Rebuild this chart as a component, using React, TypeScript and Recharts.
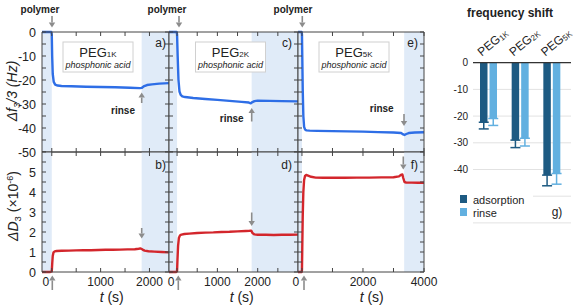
import React from 'react';
import {
  LineChart, Line, XAxis, YAxis, ReferenceArea,
  BarChart, Bar, ErrorBar, CartesianGrid, ReferenceLine,
} from 'recharts';

const W = 573;
const H = 307;
const FONT = '"Liberation Sans", Arial, Helvetica, sans-serif';
const FRAME = '#444444';
const SHADE = '#e0ebf8';
const BLUE = '#2e6ee6';
const RED = '#d3262c';
const ARROW = '#8c8c8c';
const DARK_BAR = '#1d5a82';
const LIGHT_BAR = '#62b0e0';
const TICK = 4;
const AX = 1; // thickness reserved for each axis strip

// ---- PEG 1K : frequency (a) and dissipation (b) ----
const timeA = [-200, -10, 0, 8, 20, 40, 70, 120, 200, 400, 700, 1000, 1300, 1600, 1800, 1840, 1880, 1950, 2050, 2200, 2400];
const freqA = [0, 0, -1, -10, -17.5, -20.8, -21.9, -22.3, -22.5, -22.6, -22.8, -22.9, -23.0, -23.2, -23.4, -23.3, -22.7, -22.1, -21.8, -21.5, -21.3];
const timeB = [-200, -30, 0, 10, 20, 35, 60, 100, 200, 350, 500, 650, 800, 950, 1100, 1250, 1400, 1550, 1700, 1780, 1820, 1860, 1900, 1980, 2100, 2250, 2400];
const dissB = [0, 0, 0.03, 0.45, 0.8, 0.98, 1.03, 1.05, 1.06, 1.07, 1.08, 1.09, 1.09, 1.1, 1.11, 1.11, 1.12, 1.13, 1.14, 1.16, 1.18, 1.12, 1.07, 1.04, 1.02, 1.0, 0.98];

// ---- PEG 2K : frequency (c) and dissipation (d) ----
const timeC = [-200, -10, 0, 15, 35, 60, 90, 130, 200, 400, 700, 1000, 1300, 1600, 1780, 1830, 1870, 1920, 2000, 2300, 2600, 3000];
const freqC = [0, 0, -1, -10, -20, -24.8, -26.2, -26.8, -27.1, -27.5, -27.9, -28.3, -28.7, -29.1, -29.4, -29.7, -29.2, -28.8, -28.6, -28.7, -28.8, -28.9];
const timeD = [-200, -20, 0, 10, 25, 45, 70, 110, 180, 300, 500, 700, 900, 1100, 1300, 1500, 1700, 1800, 1840, 1870, 1920, 2000, 2200, 2400, 2600, 2800, 3000];
const dissD = [0, 0, 0.05, 0.6, 1.3, 1.7, 1.82, 1.87, 1.9, 1.92, 1.95, 1.97, 1.98, 2.0, 2.01, 2.03, 2.05, 2.06, 2.07, 1.95, 1.88, 1.86, 1.86, 1.85, 1.86, 1.86, 1.87];

// ---- PEG 5K : frequency (e) and dissipation (f) ----
const timeE = [-130, -10, 0, 10, 25, 45, 70, 100, 150, 250, 500, 1000, 1500, 2000, 2500, 3000, 3250, 3320, 3360, 3420, 3500, 3700, 4000];
const freqE = [0, 0, -1, -10, -24, -35, -39.5, -40.6, -41.0, -41.1, -41.2, -41.3, -41.4, -41.5, -41.7, -41.9, -42.1, -42.7, -42.9, -42.5, -42.1, -41.9, -41.8];
const timeF = [-130, -10, 0, 10, 25, 45, 70, 100, 140, 200, 300, 450, 700, 1000, 1400, 1800, 2200, 2600, 3000, 3180, 3250, 3290, 3320, 3360, 3420, 3600, 3800, 4000];
const dissF = [0, 0, 0.1, 1.2, 2.8, 4.0, 4.6, 4.8, 4.85, 4.82, 4.76, 4.72, 4.71, 4.72, 4.71, 4.72, 4.72, 4.73, 4.74, 4.78, 4.86, 4.88, 4.7, 4.5, 4.47, 4.47, 4.46, 4.46];

// ---- bar summary (g) ----
const pegSizes = ['1K', '2K', '5K'];
const adsorptionShift = [-22.3, -29.0, -42.1];
const adsorptionSpread = [2.5, 2.8, 4.0];
const rinseShift = [-20.9, -28.3, -41.5];
const rinseSpread = [2.6, 2.9, 4.0];

// axis tick values
const freqTicks = [-50, -45, -40, -35, -30, -25, -20, -15, -10, -5, 0];
const freqLabels = [0, -10, -20, -30, -40, -50];
const dissTicks = [0, 0.5, 1, 1.5, 2, 2.5, 3, 3.5, 4, 4.5, 5, 5.5, 6];
const dissLabels = [0, 1, 2, 3, 4, 5];
const barTicks = [0, -10, -20, -30, -40, -50, -60];
const barLabels = [0, -10, -20, -30, -40];

const rows = (t: number[], v: number[]) => t.map((x, i) => ({ t: x, v: v[i] }));

const columns = [
  { left: 42, width: 127, domain: [-200, 2400], ticks: [0, 500, 1000, 1500, 2000], labels: [0, 1000, 2000], shades: [[-200, 0], [1840, 2400]] },
  { left: 169, width: 129, domain: [-200, 3000], ticks: [0, 500, 1000, 1500, 2000, 2500], labels: [0, 1000, 2000], shades: [[-200, 0], [1850, 3000]] },
  { left: 298, width: 126, domain: [-130, 4000], ticks: [0, 1000, 2000, 3000, 4000], labels: [0, 2000, 4000], shades: [[-130, 0], [3350, 4000]] },
];

const panelRows = [
  { top: 32, height: 120, domain: [-50, 0], ticks: freqTicks, labels: freqLabels },
  { top: 152, height: 120, domain: [0, 6], ticks: dissTicks, labels: dissLabels },
];

const panels = [
  { col: 0, row: 0, data: rows(timeA, freqA), color: BLUE },
  { col: 0, row: 1, data: rows(timeB, dissB), color: RED },
  { col: 1, row: 0, data: rows(timeC, freqC), color: BLUE },
  { col: 1, row: 1, data: rows(timeD, dissD), color: RED },
  { col: 2, row: 0, data: rows(timeE, freqE), color: BLUE },
  { col: 2, row: 1, data: rows(timeF, dissF), color: RED },
];

const txt = { fontFamily: FONT, fill: '#222' };

const bottomTick = (labels: number[] | null) => (p: any) => {
  const v = p.payload.value;
  const show = labels !== null && labels.includes(v);
  return (
    <g>
      <line x1={p.x} x2={p.x} y1={p.y} y2={p.y - TICK} stroke={FRAME} />
      {show && (
        <text x={p.x + (v === 0 ? -6 : 0)} y={p.y + 14} textAnchor="middle" fontSize={12} {...txt}>{v}</text>
      )}
    </g>
  );
};

const topTick = (p: any) => (
  <line x1={p.x} x2={p.x} y1={p.y} y2={p.y + TICK} stroke={FRAME} />
);

const leftTick = (labels: number[] | null) => (p: any) => {
  const v = p.payload.value;
  const show = labels !== null && labels.includes(v);
  return (
    <g>
      <line x1={p.x} x2={p.x + TICK} y1={p.y} y2={p.y} stroke={FRAME} />
      {show && (
        <text x={p.x - 6} y={p.y + 4.5} textAnchor="end" fontSize={12.5} {...txt}>{v}</text>
      )}
    </g>
  );
};

const rightTick = (p: any) => (
  <line x1={p.x} x2={p.x - TICK} y1={p.y} y2={p.y} stroke={FRAME} />
);

function TimePanel({ col, row, data, color }: any) {
  const c = columns[col];
  const r = panelRows[row];
  const margin = {
    left: c.left - AX,
    top: r.top - AX,
    right: W - c.left - c.width - AX,
    bottom: H - r.top - r.height - AX,
  };
  const xLabels = row === 1 ? c.labels : null;
  const yLabels = col === 0 ? r.labels : null;
  const axisLine = { stroke: FRAME, strokeWidth: 1 };
  return (
    <div style={{ position: 'absolute', left: 0, top: 0 }}>
      <LineChart width={W} height={H} data={data} margin={margin}>
        <XAxis xAxisId="b" dataKey="t" type="number" domain={c.domain} ticks={c.ticks} interval={0}
          orientation="bottom" height={AX} tickSize={0} tickMargin={0} tickLine={false}
          axisLine={axisLine} tick={bottomTick(xLabels)} />
        <XAxis xAxisId="t" dataKey="t" type="number" domain={c.domain} ticks={c.ticks} interval={0}
          orientation="top" height={AX} tickSize={0} tickMargin={0} tickLine={false}
          axisLine={axisLine} tick={topTick} />
        <YAxis yAxisId="l" type="number" domain={r.domain} ticks={r.ticks} interval={0}
          orientation="left" width={AX} tickSize={0} tickMargin={0} tickLine={false}
          axisLine={axisLine} tick={leftTick(yLabels)} />
        <YAxis yAxisId="r" type="number" domain={r.domain} ticks={r.ticks} interval={0}
          orientation="right" width={AX} tickSize={0} tickMargin={0} tickLine={false}
          axisLine={axisLine} tick={rightTick} />
        {c.shades.map(([a, b], i) => (
          <ReferenceArea key={i} xAxisId="b" yAxisId="l" x1={a} x2={b} fill={SHADE} fillOpacity={1} stroke="none" />
        ))}
        <Line xAxisId="t" yAxisId="r" dataKey="v" stroke="none" dot={false} isAnimationActive={false} />
        <Line xAxisId="b" yAxisId="l" type="linear" dataKey="v" stroke={color} strokeWidth={2.4}
          dot={false} isAnimationActive={false} strokeLinejoin="round" />
      </LineChart>
    </div>
  );
}

const barRows = pegSizes.map((k, i) => ({
  name: k,
  ads: adsorptionShift[i],
  adsErr: [adsorptionSpread[i], 0],
  rin: rinseShift[i],
  rinErr: [rinseSpread[i], 0],
}));

const pegTick = (p: any) => (
  <text transform={`translate(${p.x - 7},${p.y - 6}) rotate(-40)`} fontSize={12} {...txt}>
    PEG<tspan fontSize={8} dy={1}>{p.payload.value}</tspan>
  </text>
);

const barYTick = (p: any) => {
  const v = p.payload.value;
  if (!barLabels.includes(v)) return <g />;
  return <text x={p.x - 5} y={p.y + 3.5} textAnchor="end" fontSize={10} {...txt}>{v}</text>;
};

function ShiftBars() {
  return (
    <div style={{ position: 'absolute', left: 0, top: 0 }}>
      <BarChart width={W} height={H} data={barRows}
        margin={{ left: 473 - AX, top: 62.7 - AX, right: 2, bottom: H - 222.9 }} barGap={2}>
        <CartesianGrid vertical={false} stroke="#e2e2e2" />
        <XAxis dataKey="name" orientation="top" height={AX} tickSize={0} tickMargin={0}
          axisLine={false} tickLine={false} tick={pegTick} interval={0} padding={{ left: 0, right: 3 }} />
        <YAxis type="number" domain={[-60, 0]} ticks={barTicks} interval={0} width={AX}
          tickSize={0} tickMargin={0} axisLine={false} tickLine={false} tick={barYTick} />
        <ReferenceLine y={0} stroke="#333" strokeWidth={1.2} />
        <Bar dataKey="ads" fill={DARK_BAR} barSize={7.5} isAnimationActive={false}>
          <ErrorBar dataKey="adsErr" width={5} stroke={DARK_BAR} strokeWidth={1.5} direction="y" />
        </Bar>
        <Bar dataKey="rin" fill={LIGHT_BAR} barSize={7.5} isAnimationActive={false}>
          <ErrorBar dataKey="rinErr" width={5} stroke={LIGHT_BAR} strokeWidth={1.5} direction="y" />
        </Bar>
      </BarChart>
    </div>
  );
}

function Arrow({ x, from, to }: { x: number; from: number; to: number }) {
  const dir = Math.sign(to - from);
  const hl = 5;
  const hw = 3.2;
  return (
    <g>
      <line x1={x} x2={x} y1={from} y2={to - dir * hl} stroke={ARROW} strokeWidth={1.6} />
      <path d={`M${x - hw},${to - dir * hl} L${x + hw},${to - dir * hl} L${x},${to} Z`} fill={ARROW} />
    </g>
  );
}

const boxes = [
  { x: 63, size: '1K' },
  { x: 195.5, size: '2K' },
  { x: 319, size: '5K' },
];

function Annotations() {
  return (
    <svg width={W} height={H} style={{ position: 'absolute', left: 0, top: 0 }}>
      {/* injection markers */}
      {[{ lx: 40, ax: 52 }, { lx: 167, ax: 179 }, { lx: 293, ax: 302.3 }].map((m, i) => (
        <g key={i}>
          <text x={m.lx} y={12.5} textAnchor="middle" fontSize={10} fontWeight="bold" {...txt}>polymer</text>
          <Arrow x={m.ax} from={16} to={27.5} />
        </g>
      ))}
      {/* sample boxes */}
      {boxes.map((b, i) => (
        <g key={i}>
          <rect x={b.x} y={42} width={70} height={30} fill="#fff" stroke="#d0d0d0" strokeWidth={1} />
          <text x={b.x + 35} y={57} textAnchor="middle" fontSize={13} {...txt}>
            PEG<tspan fontSize={8}>{b.size}</tspan>
          </text>
          <text x={b.x + 35} y={67.5} textAnchor="middle" fontSize={9} fontStyle="italic" {...txt}>phosphonic acid</text>
        </g>
      ))}
      {/* panel letters */}
      {[['a)', 166, 47], ['c)', 292, 47], ['e)', 418, 47], ['b)', 166, 169], ['d)', 292, 169], ['f)', 418, 169]].map(([s, x, y]) => (
        <text key={s as string} x={x as number} y={y as number} textAnchor="end" fontSize={12} {...txt}>{s}</text>
      ))}
      {/* rinse markers */}
      <text x={123} y={113.5} textAnchor="middle" fontSize={10} fontWeight="bold" {...txt}>rinse</text>
      <Arrow x={141.7} from={103} to={92.5} />
      <text x={231.7} y={121.5} textAnchor="middle" fontSize={10} fontWeight="bold" {...txt}>rinse</text>
      <Arrow x={251.7} from={121.5} to={108} />
      <text x={381.7} y={112} textAnchor="middle" fontSize={10} fontWeight="bold" {...txt}>rinse</text>
      <Arrow x={404} from={114} to={126} />
      <Arrow x={141.7} from={228} to={238.5} />
      <Arrow x={251.7} from={212.5} to={226} />
      <Arrow x={403.3} from={156.5} to={169.5} />
      <Arrow x={52.3} from={290} to={275.5} />
      <Arrow x={178.3} from={290} to={275.5} />
      <Arrow x={304} from={290} to={275.5} />
      {/* axis titles */}
      <text transform="translate(17,91) rotate(-90)" textAnchor="middle" fontSize={14} fontStyle="italic" {...txt}>
        Δf<tspan fontSize={9.5} dy={3}>3</tspan><tspan dy={-3}>/3 (Hz)</tspan>
      </text>
      <text transform="translate(18,206) rotate(-90)" textAnchor="middle" fontSize={14} {...txt}>
        <tspan fontStyle="italic">ΔD</tspan><tspan fontSize={9.5} dy={3}>3</tspan><tspan dy={-3}> (×10</tspan>
        <tspan fontSize={9} dy={-5}>-6</tspan><tspan dy={5}>)</tspan>
      </text>
      {[111.7, 241.7, 371.7].map((x, i) => (
        <text key={i} x={x} y={302} textAnchor="middle" fontSize={14} {...txt}>
          <tspan fontStyle="italic">t</tspan> (s)
        </text>
      ))}
      {/* summary panel */}
      <text x={510} y={17} textAnchor="middle" fontSize={12} fontWeight="bold" {...txt}>frequency shift</text>
      <rect x={455} y={189} width={78} height={31} fill="#fff" />
      <rect x={460} y={195} width={7} height={8} fill={DARK_BAR} />
      <rect x={460} y={208} width={7} height={8} fill={LIGHT_BAR} />
      <text x={473} y={203.5} fontSize={11} {...txt}>adsorption</text>
      <text x={473} y={216.5} fontSize={11} {...txt}>rinse</text>
      <text x={557} y={216} textAnchor="middle" fontSize={12} {...txt}>g)</text>
    </svg>
  );
}

export default function App() {
  return (
    <div style={{ position: 'absolute', left: 0, top: 0, width: W, height: H, background: '#fff', fontFamily: FONT }}>
      {panels.map((p, i) => (
        <TimePanel key={i} {...p} />
      ))}
      <ShiftBars />
      <Annotations />
    </div>
  );
}
